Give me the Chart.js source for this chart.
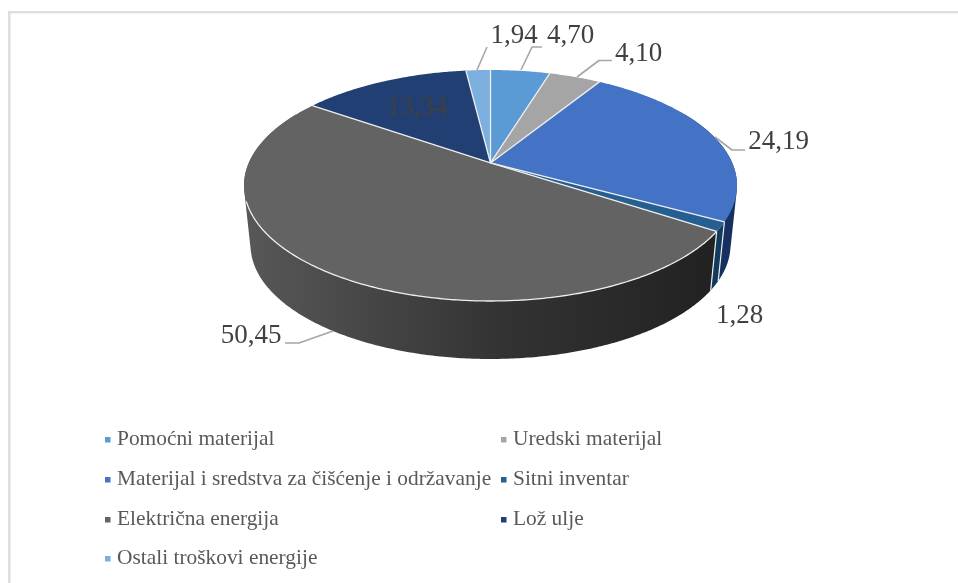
<!DOCTYPE html>
<html><head><meta charset="utf-8">
<style>
html,body{margin:0;padding:0;background:#fff;overflow:hidden}
#wrap{position:relative;width:958px;height:583px}
canvas{position:absolute;left:0;top:0}
</style>
<script src="https://cdn.jsdelivr.net/npm/chart.js@4"></script>
</head><body><div id="wrap"><canvas id="c" width="958" height="583"></canvas></div>
<script>
const categories = ["Pomoćni materijal","Uredski materijal","Materijal i sredstva za čišćenje i održavanje","Sitni inventar","Električna energija","Lož ulje","Ostali troškovi energije"];
const values = [4.70,4.10,24.19,1.28,50.45,13.34,1.94];
const valueLabels = ["4,70","4,10","24,19","1,28","50,45","13,34","1,94"];
const topColors = ["#5b9bd5","#a5a5a5","#4472c4","#255e91","#636363","#223f73","#7cafdd"];
const sideColors = ["#3a6a96","#6f6f6f","#16305f","#12395e","#3a3a3a","#14284b","#4f7aa0"];
const labelPos = [[570.5,43],[638.5,61],[778.5,149],[739.5,323],[251,343],[417,115],[514,43]];
const leaders = [[[542,47],[532,47],[521,70]],[[612,60.5],[599,60.5],[577,77]],[[745,150],[732,150],[715,137]],null,[[285,343],[299,343],[333,331]],null,[[487,47],[477,70]]];
const legendPos = [[105,445],[501,445],[105,485],[501,485],[105,525],[501,525],[105,564]];

const TOP={cx:490.5,cy:185.5,rx:246.5,ry:115.5}, BOTTOM={cx:490.5,cy:245,rx:240,ry:114};
const BOOST=-0.195;
function project(a,r,f){
  const ux=Math.cos(a)*r, uy=Math.sin(a)*r, d=1+BOOST*uy;
  return [f.cx+f.rx*ux*Math.sqrt(1-BOOST*BOOST)/d, f.cy+f.ry*(uy+BOOST)/d];
}
function tracePath(ctx,a0,a1,f){
  const n=Math.max(2,Math.ceil(Math.abs(a1-a0)/0.01));
  for(let i=0;i<=n;i++){const p=project(a0+(a1-a0)*i/n,1,f);ctx.lineTo(p[0],p[1]);}
}
function wallPath(ctx,lo,hi){
  const n=Math.max(2,Math.ceil((hi-lo)/0.01));
  ctx.beginPath();
  for(let i=0;i<n;i++){
    const a=lo+(hi-lo)*i/n,b=lo+(hi-lo)*(i+1)/n;
    let q=[project(a,1,TOP),project(b,1,TOP),project(b,1,BOTTOM),project(a,1,BOTTOM)];
    let area=0;
    q.forEach((p,k)=>{const r=q[(k+1)%4];area+=p[0]*r[1]-r[0]*p[1];});
    if(area<0) q=q.reverse();
    ctx.moveTo(q[0][0],q[0][1]);q.slice(1).forEach(p=>ctx.lineTo(p[0],p[1]));ctx.closePath();
  }
}
const pie3d={id:'pie3d',
  beforeDatasetsDraw(chart){
    const ctx=chart.ctx, arcs=chart.getDatasetMeta(0).data;
    ctx.save();
    ctx.fillStyle='#dedede';
    ctx.fillRect(8,11,950,2.4);ctx.fillRect(8,11,2.6,572);
    // side wall
    arcs.forEach((el,i)=>{
      const lo=Math.max(el.startAngle,-0.5), hi=Math.min(el.endAngle,Math.PI+0.5);
      if(hi<=lo) return;
      wallPath(ctx,lo,hi);
      if(i===4){
        const g=ctx.createLinearGradient(245,0,710,0);
        g.addColorStop(0,'#585858');g.addColorStop(.55,'#333333');g.addColorStop(1,'#222222');
        ctx.fillStyle=g;
      } else ctx.fillStyle=sideColors[i];
      ctx.fill();
    });
    // white edges of the small wall segment
    ctx.strokeStyle='#f0f0f0';ctx.lineWidth=1.2;
    [arcs[3].startAngle,arcs[3].endAngle].forEach(a=>{
      const p=project(a,1,TOP),q=project(a,1,BOTTOM);
      ctx.beginPath();ctx.moveTo(p[0],p[1]);ctx.lineTo(q[0],q[1]);ctx.stroke();
    });
    // top faces
    const c=project(0,0,TOP);
    arcs.forEach((el,i)=>{
      ctx.beginPath();ctx.moveTo(c[0],c[1]);
      tracePath(ctx,el.startAngle,el.endAngle,TOP);
      ctx.closePath();
      ctx.fillStyle=topColors[i];ctx.fill();
    });
    ctx.strokeStyle='#eeeeee';ctx.lineWidth=1.3;ctx.lineJoin='round';
    arcs.forEach(el=>{
      const p=project(el.startAngle,1,TOP);
      ctx.beginPath();ctx.moveTo(c[0],c[1]);ctx.lineTo(p[0],p[1]);ctx.stroke();
    });
    const grey=arcs[4];
    const g0=project(grey.startAngle,1,TOP);
    ctx.beginPath();ctx.moveTo(g0[0],g0[1]);
    tracePath(ctx,grey.startAngle,Math.PI-0.33,TOP);ctx.stroke();
    // leader lines and labels
    ctx.strokeStyle='#a6a6a6';ctx.lineWidth=1.6;
    leaders.forEach(l=>{ if(!l) return;
      ctx.beginPath();l.forEach((p,i)=>i?ctx.lineTo(p[0],p[1]):ctx.moveTo(p[0],p[1]));ctx.stroke();});
    ctx.font='27px "Liberation Serif"';ctx.textAlign='center';ctx.textBaseline='alphabetic';
    ctx.fillStyle='#404040';
    valueLabels.forEach((t,i)=>ctx.fillText(t,labelPos[i][0],labelPos[i][1]));
    // legend
    ctx.font='21.4px "Liberation Serif"';ctx.textAlign='left';
    categories.forEach((t,i)=>{
      const [x,y]=legendPos[i];
      ctx.fillStyle=topColors[i];ctx.fillRect(x,y-8,5.5,5.5);
      ctx.fillStyle='#595959';ctx.fillText(t,x+12,y);
    });
    ctx.restore();
    return false;
  }
};
new Chart(document.getElementById('c'),{
  type:'pie',
  data:{labels:categories,datasets:[{data:values,backgroundColor:topColors}]},
  options:{responsive:false,animation:false,
    plugins:{legend:{display:false},tooltip:{enabled:false}}},
  plugins:[pie3d]
});
</script></body></html>
